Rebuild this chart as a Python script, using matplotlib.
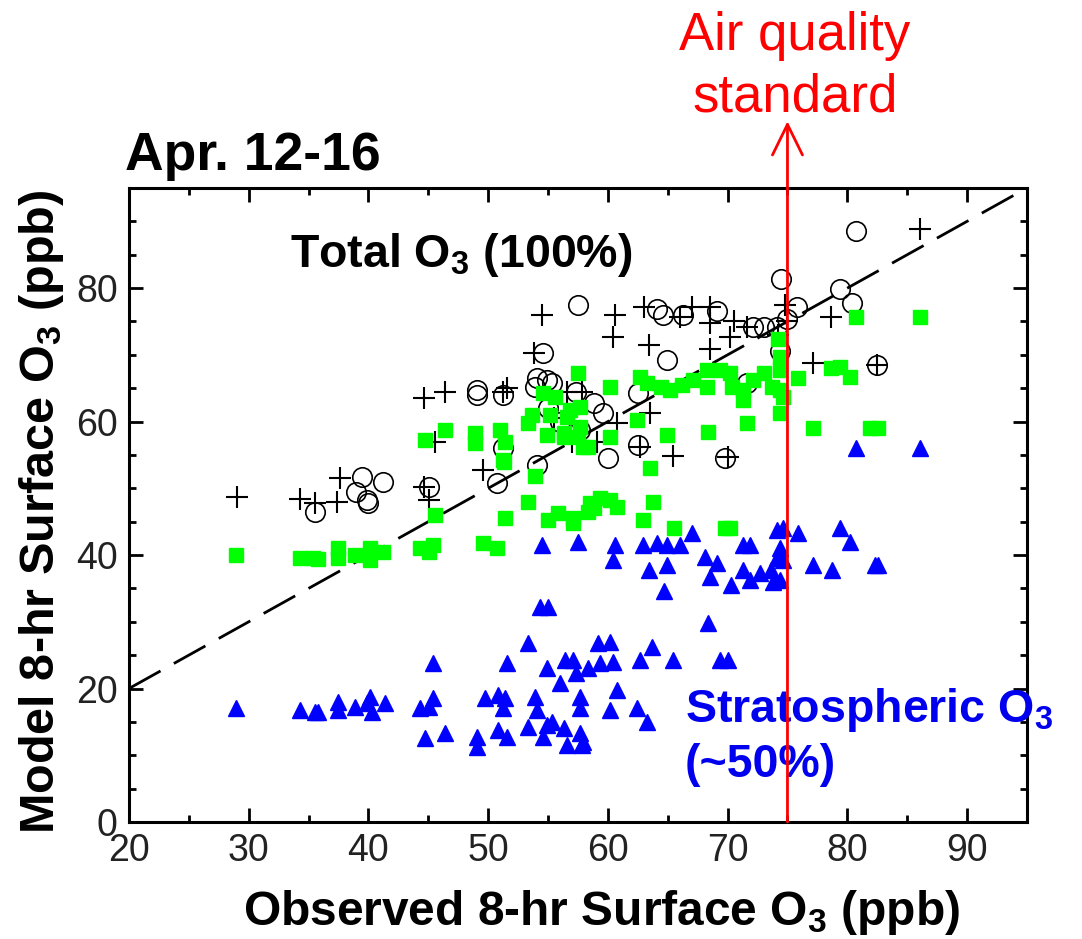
import matplotlib
matplotlib.use("Agg")
import matplotlib.pyplot as plt
from matplotlib.ticker import MultipleLocator

plt.rcParams['font.family'] = ['Liberation Sans', 'DejaVu Sans']
plt.rcParams['mathtext.default'] = 'regular'

# total O3, open circles (obs, model)
circ_x = [35.5, 39.0, 39.5, 41.2, 39.9, 40.0, 45.1, 49.1, 49.1, 51.2, 50.7, 51.2,
          53.9, 54.1, 54.9, 54.6, 57.5, 54.1, 55.3, 57.3, 58.8, 59.6, 57.7, 60.0,
          62.5, 62.5, 64.9, 64.1, 64.6, 66.3, 69.1, 72.1, 73.0, 74.1, 74.5, 75.0,
          75.8, 71.6, 69.8, 79.4, 80.4, 80.7, 82.5, 74.4, 56.0, 55.0]
circ_y = [46.5, 49.5, 51.7, 51.0, 48.3, 47.8, 50.2, 64.0, 64.8, 64.0, 50.8, 56.1,
          65.2, 66.6, 66.3, 70.3, 77.5, 53.5, 65.8, 64.5, 62.8, 61.3, 58.8, 54.6,
          56.5, 64.3, 69.3, 76.8, 76.0, 76.0, 76.5, 74.2, 74.2, 74.2, 81.3, 75.3,
          77.1, 65.8, 54.6, 79.8, 77.8, 88.5, 68.5, 70.5, 60.0, 62.0]

# total O3, plus signs
plus_x = [29.0, 34.3, 35.5, 37.4, 37.6, 44.6, 45.1, 44.6, 46.4, 45.6, 49.6, 51.2,
          51.6, 53.8, 54.5, 56.6, 57.8, 59.1, 60.6, 60.4, 63.4, 63.0, 66.0, 67.0,
          68.5, 68.5, 70.5, 70.2, 71.6, 74.8, 75.0, 68.5, 63.5, 60.8, 62.7, 65.4,
          70.0, 77.1, 78.6, 82.5, 86.1, 55.5, 57.0, 74.2]
plus_y = [48.7, 48.4, 47.8, 48.0, 51.6, 50.2, 48.3, 63.6, 64.5, 57.0, 52.8, 64.5,
          65.1, 70.3, 76.0, 64.5, 64.5, 57.0, 75.9, 72.7, 71.5, 77.2, 75.7, 77.2,
          77.2, 74.8, 75.0, 72.7, 74.2, 77.5, 75.0, 70.8, 61.3, 59.8, 56.2, 54.8,
          54.7, 68.8, 75.7, 68.5, 88.8, 60.5, 57.0, 73.0]

# green squares
sq_x = [28.9, 34.3, 35.4, 35.8, 37.5, 37.5, 38.9, 40.1, 40.1, 41.2, 44.3, 45.4,
        45.1, 45.6, 49.6, 50.7, 51.4, 53.3, 55.0, 55.8, 57.1, 57.1, 58.3, 58.5,
        59.3, 60.2, 60.8, 58.8, 62.9, 63.8, 65.5, 69.8, 70.2, 53.9, 63.5, 51.3,
        44.7, 46.4, 48.9, 48.9, 51.0, 51.4, 51.2, 53.3, 53.7, 54.6, 55.2, 54.9,
        56.3, 56.3, 56.6, 56.8, 57.5, 57.7, 57.7, 57.9, 58.3, 55.6, 57.5, 60.2,
        60.2, 62.4, 62.7, 63.3, 64.4, 64.9, 65.2, 66.2, 67.1, 68.3, 68.3, 68.4,
        69.4, 70.2, 70.4, 71.3, 71.3, 71.6, 72.1, 73.0, 73.7, 74.4, 74.4, 74.2,
        74.4, 74.6, 74.4, 75.9, 77.1, 78.6, 79.4, 80.2, 80.7, 81.9, 82.6, 86.1]
sq_y = [40.0, 39.6, 39.5, 39.4, 39.6, 41.1, 40.0, 41.1, 39.3, 40.5, 41.1, 41.5,
        40.5, 46.0, 41.8, 41.1, 45.6, 48.0, 45.3, 46.3, 45.6, 44.8, 46.5, 47.8,
        48.6, 48.3, 47.2, 47.1, 45.3, 48.0, 44.1, 44.1, 44.1, 51.8, 53.1, 54.0,
        57.3, 58.8, 58.3, 56.8, 58.8, 57.0, 54.3, 59.8, 61.0, 64.3, 61.0, 58.0,
        57.7, 58.3, 60.7, 61.8, 57.7, 59.2, 62.2, 56.2, 56.2, 63.7, 67.3, 57.7,
        65.2, 60.3, 66.7, 65.8, 65.2, 58.0, 64.8, 65.5, 66.3, 67.8, 65.2, 58.5,
        67.8, 67.3, 65.2, 64.8, 63.3, 59.8, 66.3, 67.3, 65.2, 64.8, 67.8, 72.3,
        69.7, 63.7, 61.3, 66.6, 59.1, 68.1, 68.2, 66.7, 75.6, 59.1, 59.1, 75.6]

# stratospheric O3, blue triangles
tri_x = [28.9, 34.3, 35.5, 35.8, 37.5, 37.5, 38.9, 39.9, 40.1, 40.3, 41.4, 44.3,
         45.1, 45.4, 45.4, 44.7, 46.4, 49.1, 49.1, 49.7, 50.8, 51.4, 51.2, 50.8,
         51.6, 51.6, 53.3, 54.5, 54.3, 55.0, 54.9, 53.9, 54.1, 53.3, 54.6, 55.3,
         54.9, 56.4, 57.1, 56.0, 57.3, 57.7, 57.7, 56.6, 57.8, 56.3, 57.7, 57.9,
         57.5, 58.3, 59.2, 60.2, 59.3, 60.4, 60.8, 60.2, 62.4, 62.7, 63.7, 63.3,
         65.4, 69.4, 70.0, 60.6, 60.4, 62.9, 64.1, 64.9, 66.0, 67.0, 63.4, 64.9,
         64.7, 68.1, 68.5, 69.1, 70.3, 68.4, 71.3, 71.9, 71.3, 71.9, 72.7, 73.6,
         74.1, 74.6, 74.4, 74.1, 74.6, 74.4, 73.8, 75.9, 77.1, 78.7, 79.4, 80.2,
         82.3, 82.6, 80.7, 86.1]
tri_y = [17.1, 16.8, 16.5, 16.5, 18.0, 16.8, 17.3, 17.8, 18.7, 16.5, 17.8, 17.1,
         17.3, 18.6, 23.8, 12.6, 13.3, 12.7, 11.3, 18.6, 19.0, 18.6, 17.1, 13.8,
         12.7, 23.8, 26.8, 41.5, 32.2, 32.2, 23.1, 18.7, 16.8, 14.2, 12.7, 15.0,
         14.5, 24.3, 24.3, 20.8, 22.3, 18.7, 17.1, 11.5, 11.5, 14.1, 13.3, 12.0,
         42.0, 23.1, 26.8, 27.0, 23.8, 24.0, 19.8, 16.8, 17.1, 24.3, 26.2, 15.0,
         24.3, 24.3, 24.3, 41.5, 39.3, 41.5, 41.8, 41.5, 41.5, 43.3, 37.8, 38.5,
         34.6, 39.7, 36.7, 38.8, 35.5, 29.8, 41.5, 41.5, 37.8, 36.3, 37.3, 37.8,
         43.8, 44.1, 41.1, 39.6, 39.3, 36.3, 36.0, 43.3, 38.5, 37.8, 44.1, 42.0,
         38.5, 38.5, 56.1, 56.1]

one_to_one = [20, 95]
standard_ppb = 75

fig = plt.figure(figsize=(10.82, 9.39), dpi=100)
ax = fig.add_axes([0.1192, 0.1246, 0.8299, 0.6752])

ax.plot(one_to_one, one_to_one, color='black', lw=2, dashes=(13, 5.5), zorder=2)
ax.plot(circ_x, circ_y, ls='none', marker='o', ms=14, mfc='none', mec='black', mew=1.2, zorder=3)
ax.plot(plus_x, plus_y, ls='none', marker='+', ms=16, mec='black', mew=1.5, zorder=3)
ax.plot(sq_x, sq_y, ls='none', marker='s', ms=9.5, mfc='#00ff00', mec='#00ff00', zorder=4)
ax.plot(tri_x, tri_y, ls='none', marker='^', ms=12, mfc='#0000ff', mec='#0000ff', zorder=4)

ax.annotate('', xy=(standard_ppb, 105), xytext=(standard_ppb, 0),
            arrowprops=dict(arrowstyle='->,head_length=0.55,head_width=0.27',
                            color='red', lw=2, mutation_scale=40,
                            shrinkA=0, shrinkB=0),
            annotation_clip=False, zorder=6)

ax.set_xlim(20, 95)
ax.set_ylim(0, 95)
ax.xaxis.set_major_locator(MultipleLocator(10))
ax.xaxis.set_minor_locator(MultipleLocator(5))
ax.yaxis.set_major_locator(MultipleLocator(20))
ax.yaxis.set_minor_locator(MultipleLocator(5))
ax.tick_params(which='both', direction='in', top=True, right=True, width=2)
ax.tick_params(which='major', length=10, labelsize=27, pad=8, labelcolor='#222222')
ax.tick_params(which='minor', length=5)
for s in ax.spines.values():
    s.set_linewidth(2.2)

ax.set_xlabel('Observed 8-hr Surface O$_3$ (ppb)', fontsize=34.5, fontweight='bold', va='center')
ax.xaxis.set_label_coords(0.526, -0.142)
ax.set_ylabel('Model 8-hr Surface O$_3$ (ppb)', fontsize=35, fontweight='bold', va='center')
ax.yaxis.set_label_coords(-0.097, 0.489)

ax.text(33.45, 83.1, 'Total O$_3$ (100%)', fontsize=33.5, fontweight='bold', ha='left', va='baseline')
ax.text(66.45, 15.0, 'Stratospheric O$_3$', fontsize=33.5, fontweight='bold', color='#0000ee',
        ha='left', va='baseline')
ax.text(66.45, 6.7, '(~50%)', fontsize=33.5, fontweight='bold', color='#0000ee',
        ha='left', va='baseline')

fig.text(125 / 1082, 1 - 170 / 939, 'Apr. 12-16', fontsize=38.5, fontweight='bold',
         ha='left', va='baseline')
fig.text(795 / 1082, 1 - 50 / 939, 'Air quality', fontsize=38, color='red',
         ha='center', va='baseline')
fig.text(795 / 1082, 1 - 112 / 939, 'standard', fontsize=38, color='red',
         ha='center', va='baseline')

fig.savefig('out.png', dpi=100)
